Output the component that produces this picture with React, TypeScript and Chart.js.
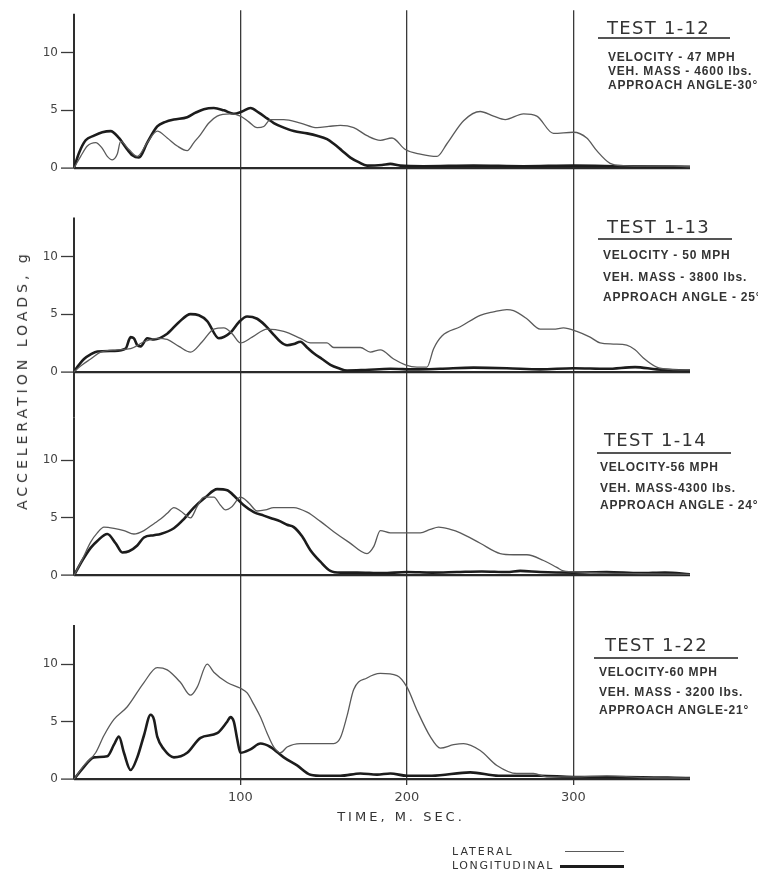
import React, { useEffect, useRef } from 'react';
import { Chart, registerables } from 'chart.js';

Chart.register(...registerables);

// ---------- axis values ----------
const timeTicks = [100, 200, 300];
const loadTicks = [0, 5, 10];
const timeMax = 370;

// ---------- TEST 1-12 ----------
const tLat12 = [0, 4, 8, 13, 17, 20, 23, 26, 28, 33, 38, 44, 50, 56, 62, 68, 72, 76, 81, 86, 94, 100, 105, 110, 114, 118, 126, 136, 146, 153, 160, 168, 176, 184, 191, 199, 208, 218, 224, 234, 244, 252, 259, 270, 278, 288, 300, 308, 314, 322, 330, 345, 360, 370];
const gLat12 = [0, 1.0, 1.9, 2.2, 1.7, 1.0, 0.7, 1.2, 2.3, 1.6, 1.0, 2.2, 3.2, 2.6, 1.9, 1.5, 2.2, 2.9, 3.9, 4.5, 4.7, 4.5, 4.0, 3.5, 3.6, 4.2, 4.2, 3.9, 3.5, 3.6, 3.7, 3.5, 2.8, 2.4, 2.6, 1.6, 1.2, 1.0, 2.1, 4.1, 4.9, 4.5, 4.2, 4.7, 4.5, 3.0, 3.1, 2.6, 1.5, 0.4, 0.2, 0.15, 0.15, 0.1];
const tLon12 = [0, 3, 7, 12, 17, 22, 27, 31, 35, 39, 44, 50, 55, 60, 68, 73, 78, 84, 90, 96, 101, 106, 111, 116, 120, 126, 132, 140, 146, 152, 156, 161, 166, 171, 176, 185, 190, 196, 210, 240, 270, 300, 330, 370];
const gLon12 = [0, 1.3, 2.4, 2.8, 3.1, 3.2, 2.6, 1.8, 1.1, 0.9, 2.2, 3.6, 4.0, 4.2, 4.4, 4.8, 5.1, 5.2, 5.0, 4.7, 4.9, 5.2, 4.8, 4.3, 3.9, 3.5, 3.2, 3.0, 2.8, 2.5, 2.1, 1.5, 0.9, 0.5, 0.2, 0.25, 0.35, 0.2, 0.15, 0.2, 0.15, 0.2, 0.15, 0.1];

// ---------- TEST 1-13 ----------
const tLat13 = [0, 5, 10, 16, 26, 34, 42, 50, 56, 63, 70, 77, 84, 90, 95, 100, 107, 116, 126, 136, 142, 152, 156, 165, 172, 178, 184, 192, 199, 206, 212, 216, 221, 232, 244, 252, 260, 264, 272, 280, 288, 294, 302, 310, 316, 324, 332, 337, 342, 350, 358, 370];
const gLat13 = [0, 0.6, 1.1, 1.7, 1.9, 2.0, 2.6, 2.9, 2.8, 2.2, 1.7, 2.6, 3.7, 3.8, 3.3, 2.5, 3.0, 3.7, 3.5, 2.9, 2.5, 2.5, 2.1, 2.1, 2.1, 1.7, 1.9, 1.1, 0.6, 0.4, 0.4, 2.0, 3.1, 3.9, 4.9, 5.2, 5.4, 5.3, 4.6, 3.7, 3.7, 3.8, 3.5, 3.0, 2.5, 2.4, 2.3, 1.9, 1.2, 0.4, 0.2, 0.15];
const tLon13 = [0, 3, 6, 10, 14, 24, 31, 34, 36, 38, 40, 44, 48, 56, 63, 70, 75, 80, 87, 94, 99, 104, 110, 115, 120, 124, 128, 132, 136, 140, 144, 149, 154, 159, 164, 175, 190, 205, 220, 240, 260, 280, 300, 320, 337, 350, 370];
const gLon13 = [0, 0.6, 1.1, 1.5, 1.75, 1.8, 2.0, 3.0, 2.9, 2.3, 2.2, 2.9, 2.8, 3.3, 4.3, 5.0, 4.9, 4.4, 2.9, 3.4, 4.3, 4.8, 4.6, 4.0, 3.2, 2.6, 2.3, 2.4, 2.6, 2.1, 1.6, 1.1, 0.6, 0.3, 0.1, 0.15, 0.25, 0.2, 0.25, 0.35, 0.3, 0.2, 0.3, 0.25, 0.4, 0.2, 0.1];

// ---------- TEST 1-14 ----------
const tLat14 = [0, 5, 10, 14, 18, 24, 30, 36, 42, 48, 52, 56, 60, 64, 70, 74, 78, 84, 88, 91, 95, 100, 105, 110, 115, 120, 126, 132, 140, 148, 156, 165, 176, 180, 184, 190, 200, 208, 214, 219, 226, 232, 244, 256, 264, 272, 282, 290, 294, 304, 320, 340, 370];
const gLat14 = [0, 1.4, 2.9, 3.7, 4.2, 4.1, 3.9, 3.6, 3.9, 4.5, 4.9, 5.4, 5.9, 5.6, 5.0, 6.0, 6.8, 6.8, 6.1, 5.7, 6.0, 6.8, 6.3, 5.6, 5.7, 5.9, 5.9, 5.9, 5.5, 4.7, 3.8, 2.9, 1.9, 2.5, 3.9, 3.7, 3.7, 3.7, 4.0, 4.2, 4.0, 3.7, 2.8, 1.9, 1.8, 1.8, 1.3, 0.7, 0.4, 0.3, 0.2, 0.15, 0.1];
const tLon14 = [0, 5, 10, 14, 20, 25, 29, 33, 38, 42, 48, 52, 60, 66, 72, 79, 86, 92, 97, 102, 108, 114, 118, 124, 128, 132, 137, 142, 148, 154, 160, 170, 185, 200, 215, 230, 245, 260, 268, 280, 300, 320, 340, 355, 370];
const gLon14 = [0, 1.3, 2.4, 3.0, 3.6, 2.8, 2.0, 2.1, 2.6, 3.3, 3.5, 3.6, 4.1, 4.9, 5.9, 6.8, 7.5, 7.4, 6.8, 6.1, 5.5, 5.2, 5.0, 4.7, 4.4, 4.2, 3.4, 2.2, 1.2, 0.4, 0.25, 0.25, 0.2, 0.3, 0.25, 0.3, 0.35, 0.3, 0.4, 0.3, 0.25, 0.3, 0.2, 0.25, 0.1];

// ---------- TEST 1-22 ----------
const tLat22 = [0, 6, 13, 18, 24, 32, 42, 50, 56, 64, 70, 74, 80, 84, 92, 100, 104, 108, 112, 116, 120, 124, 128, 136, 146, 156, 160, 164, 168, 176, 184, 194, 200, 206, 214, 220, 228, 234, 244, 254, 266, 276, 284, 300, 320, 340, 370];
const gLat22 = [0, 1.2, 2.3, 3.8, 5.2, 6.3, 8.4, 9.7, 9.5, 8.4, 7.3, 8.0, 10.0, 9.3, 8.4, 7.9, 7.5, 6.5, 5.4, 4.0, 2.8, 2.3, 2.8, 3.1, 3.1, 3.1, 3.6, 5.5, 7.8, 8.8, 9.2, 9.0, 8.0, 6.0, 3.7, 2.7, 3.0, 3.1, 2.5, 1.2, 0.5, 0.5, 0.2, 0.2, 0.3, 0.15, 0.1];
const tLon22 = [0, 5, 12, 20, 24, 27, 30, 34, 38, 42, 46, 48, 50, 54, 60, 68, 76, 86, 92, 94, 96, 98, 100, 106, 112, 118, 126, 134, 142, 150, 160, 172, 182, 190, 200, 215, 238, 255, 280, 300, 330, 370];
const gLon22 = [0, 0.9, 1.9, 2.0, 3.0, 3.7, 2.3, 0.8, 1.9, 3.8, 5.6, 5.2, 3.7, 2.6, 1.9, 2.3, 3.6, 4.0, 5.0, 5.4, 5.0, 3.5, 2.3, 2.6, 3.1, 2.8, 1.9, 1.2, 0.4, 0.3, 0.3, 0.5, 0.4, 0.5, 0.3, 0.3, 0.6, 0.3, 0.3, 0.2, 0.2, 0.1];

// ---------- annotation text ----------
const testNames = ['TEST 1-12', 'TEST 1-13', 'TEST 1-14', 'TEST 1-22'];
const velocities = ['VELOCITY - 47 MPH', 'VELOCITY - 50 MPH', 'VELOCITY-56 MPH', 'VELOCITY-60 MPH'];
const masses = ['VEH. MASS - 4600 lbs.', 'VEH. MASS - 3800 lbs.', 'VEH. MASS-4300 lbs.', 'VEH. MASS - 3200 lbs.'];
const angles = ['APPROACH ANGLE-30°', 'APPROACH ANGLE - 25°', 'APPROACH ANGLE - 24°', 'APPROACH ANGLE-21°'];
const seriesNames = ['LATERAL', 'LONGITUDINAL'];
const yTitle = 'ACCELERATION LOADS, g';
const xTitle = 'TIME, M. SEC.';

const lateralT = [tLat12, tLat13, tLat14, tLat22];
const lateralG = [gLat12, gLat13, gLat14, gLat22];
const longT = [tLon12, tLon13, tLon14, tLon22];
const longG = [gLon12, gLon13, gLon14, gLon22];

// ---------- panel layout (style) ----------
const panelIds = ['y12', 'y13', 'y14', 'y22'];
const panelMin = [-4, -4, -4, -0.5];
const panelMax = 13.7;
const axisFrom = [0, -4, 0, 0];
const axisTo = [13.4, 13.4, 13.7, 13.4];

const headY = [28, 227, 440, 645];
const headX = [607, 607, 604, 605];
const ruleY = [38, 239, 453, 658];
const ruleX = [[598, 730], [598, 732], [597, 731], [594, 738]];
const lineYs = [[57, 71, 85], [255, 277, 297], [467, 488, 505], [672, 692, 710]];
const lineX = [608, 603, 600, 599];

const FONT = '"DejaVu Sans", sans-serif';
const LAT_COLOR = '#5a5a5a';
const LON_COLOR = '#1c1c1c';

const axisLinePlugin = {
  id: 'panelAxisLines',
  beforeDatasetsDraw(chart: any) {
    const ctx = chart.ctx;
    ctx.save();
    ctx.strokeStyle = '#2e2e2e';
    ctx.lineWidth = 2;
    panelIds.forEach((id, i) => {
      const s = chart.scales[id];
      const x = chart.chartArea.left;
      ctx.beginPath();
      ctx.moveTo(x, s.getPixelForValue(axisFrom[i]));
      ctx.lineTo(x, s.getPixelForValue(axisTo[i]));
      ctx.stroke();
    });
    ctx.restore();
  },
};

export default function App() {
  const canvasRef = useRef<HTMLCanvasElement>(null);

  useEffect(() => {
    const canvas = canvasRef.current;
    if (!canvas) return;
    const toPts = (xs: number[], ys: number[]) => xs.map((x, i) => ({ x, y: ys[i] }));
    const datasets: any[] = [];
    panelIds.forEach((id, i) => {
      datasets.push({
        label: seriesNames[0] + ' ' + testNames[i],
        data: toPts(lateralT[i], lateralG[i]),
        yAxisID: id,
        borderColor: LAT_COLOR,
        borderWidth: 1.3,
        pointRadius: 0,
        fill: false,
        cubicInterpolationMode: 'monotone',
      });
      datasets.push({
        label: seriesNames[1] + ' ' + testNames[i],
        data: toPts(longT[i], longG[i]),
        yAxisID: id,
        borderColor: LON_COLOR,
        borderWidth: 2.6,
        pointRadius: 0,
        fill: false,
        cubicInterpolationMode: 'monotone',
      });
    });

    const scales: any = {
      x: {
        type: 'linear',
        position: 'bottom',
        min: 0,
        max: timeMax,
        border: { display: false },
        grid: { color: '#3a3a3a', lineWidth: 1.3, drawTicks: false },
        ticks: { font: { family: FONT, size: 13 }, color: '#444', padding: 5 },
        afterBuildTicks: (s: any) => {
          s.ticks = timeTicks.map((v) => ({ value: v }));
        },
        afterFit: (s: any) => {
          s.height = 90;
        },
      },
    };
    panelIds.forEach((id, i) => {
      scales[id] = {
        type: 'linear',
        position: 'left',
        stack: 'panels',
        stackWeight: panelMax - panelMin[i],
        weight: panelIds.length - i,
        min: panelMin[i],
        max: panelMax,
        border: { display: false },
        grid: {
          drawOnChartArea: true,
          drawTicks: true,
          tickLength: 13,
          tickColor: '#3a3a3a',
          tickWidth: 1.3,
          color: (c: any) => (c.tick && c.tick.value === 0 ? '#2a2a2a' : 'rgba(0,0,0,0)'),
          lineWidth: (c: any) => (c.tick && c.tick.value === 0 ? 2.2 : 1),
        },
        ticks: { font: { family: FONT, size: 12 }, color: '#444', padding: 3 },
        afterBuildTicks: (s: any) => {
          s.ticks = loadTicks.map((v) => ({ value: v }));
        },
        afterFit: (s: any) => {
          s.width = 74;
        },
      };
    });

    const chart = new Chart(canvas, {
      type: 'line',
      data: { datasets },
      options: {
        responsive: false,
        animation: false,
        devicePixelRatio: 1,
        events: [],
        layout: { padding: { left: 0, right: 68, top: 9, bottom: 0 } },
        plugins: { legend: { display: false }, tooltip: { enabled: false } },
        scales,
      } as any,
      plugins: [axisLinePlugin],
    });
    return () => chart.destroy();
  }, []);

  const txt: React.CSSProperties = { position: 'absolute', whiteSpace: 'nowrap', color: '#2a2a2a' };

  return (
    <div style={{ position: 'fixed', left: 0, top: 0, width: 758, height: 875, background: '#fff', overflow: 'hidden' }}>
      <canvas ref={canvasRef} width={758} height={875} style={{ display: 'block', width: 758, height: 875 }} />
      {testNames.map((name, i) => (
        <React.Fragment key={name}>
          <div style={{ ...txt, left: headX[i], top: headY[i] - 10, lineHeight: '20px', fontFamily: FONT, fontSize: 18, letterSpacing: 1.3, color: '#333' }}>{name}</div>
          <div style={{ position: 'absolute', left: ruleX[i][0], top: ruleY[i] - 1, width: ruleX[i][1] - ruleX[i][0], height: 0, borderTop: '2px solid #555' }} />
          {[velocities[i], masses[i], angles[i]].map((t, j) => (
            <div key={j} style={{ ...txt, left: lineX[i], top: lineYs[i][j] - 7, lineHeight: '14px', fontFamily: '"Liberation Sans", Arial, sans-serif', fontWeight: 700, fontSize: 12, letterSpacing: 0.8, color: '#333' }}>{t}</div>
          ))}
        </React.Fragment>
      ))}
      <div style={{ ...txt, left: 22, top: 380, transform: 'translate(-50%, -50%) rotate(-90deg)', fontFamily: FONT, fontSize: 14, letterSpacing: 4, lineHeight: '16px', color: '#333' }}>{yTitle}</div>
      <div style={{ ...txt, left: 401, top: 817, transform: 'translate(-50%, -50%)', fontFamily: FONT, fontSize: 13, letterSpacing: 3, lineHeight: '16px', color: '#333' }}>{xTitle}</div>
      <div style={{ ...txt, left: 452, top: 852 - 7, lineHeight: '14px', fontFamily: FONT, fontSize: 11, letterSpacing: 2, color: '#333' }}>{seriesNames[0]}</div>
      <div style={{ position: 'absolute', left: 565, top: 852 - 1, width: 59, height: 0, borderTop: '1.3px solid ' + LAT_COLOR }} />
      <div style={{ ...txt, left: 452, top: 866 - 7, lineHeight: '14px', fontFamily: FONT, fontSize: 11, letterSpacing: 1.6, color: '#333' }}>{seriesNames[1]}</div>
      <div style={{ position: 'absolute', left: 560, top: 866 - 1.5, width: 64, height: 0, borderTop: '3px solid ' + LON_COLOR }} />
    </div>
  );
}
